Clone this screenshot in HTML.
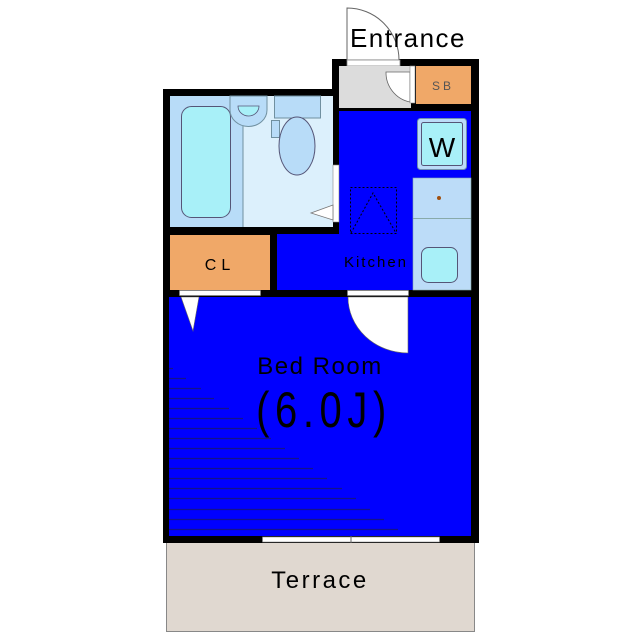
<!DOCTYPE html>
<html><head><meta charset="utf-8"><style>
html,body{margin:0;padding:0;background:#fff;}
svg{display:block;}
text{font-family:"Liberation Sans","DejaVu Sans",sans-serif;}
</style></head><body>
<svg width="640" height="640" viewBox="0 0 640 640" xmlns="http://www.w3.org/2000/svg">
<!-- terrace -->
<rect x="166.5" y="541.5" width="308" height="90" fill="#e0d8d0" stroke="#888" stroke-width="1"/>
<text x="320" y="588" font-size="24" text-anchor="middle" fill="#000" letter-spacing="2.5">Terrace</text>
<!-- outer black walls -->
<rect x="163" y="89" width="176" height="454" fill="#000"/>
<rect x="332" y="59" width="147" height="484" fill="#000"/>
<!-- entrance door arc -->
<path d="M347 60 L347 8 A52 52 0 0 1 399 60 Z" fill="#fff" stroke="#666" stroke-width="1"/>
<rect x="347" y="60" width="53" height="6" fill="#fff" stroke="#888" stroke-width="0.8"/>
<text x="408" y="47" font-size="26" text-anchor="middle" fill="#000" letter-spacing="1.5">Entrance</text>
<!-- entrance gray -->
<rect x="339" y="66" width="72" height="42" fill="#dcdcdc"/>
<path d="M410 72 L410 102 A30 30 0 0 1 386 72 Z" fill="#fff" stroke="#666" stroke-width="0.8"/>
<rect x="410" y="66" width="5" height="37" fill="#fff" stroke="#888" stroke-width="0.6"/>
<!-- SB -->
<rect x="416" y="66" width="55" height="38" fill="#f0a868"/>
<text x="443" y="90" font-size="12" text-anchor="middle" fill="#555" letter-spacing="3">SB</text>
<!-- kitchen blue -->
<rect x="339" y="111" width="132" height="179" fill="#0000ff"/>
<rect x="277" y="234" width="136" height="56" fill="#0000ff"/>
<!-- washer -->
<rect x="417.5" y="118.5" width="49" height="51" rx="3" fill="#bcdcf8" stroke="#7090b0"/>
<rect x="421.5" y="122.5" width="41" height="43" rx="2" fill="#a8f0f8" stroke="#557"/>
<text x="442" y="157" font-size="28" text-anchor="middle" fill="#000">W</text>
<!-- counter -->
<rect x="413" y="178" width="58" height="112" fill="#bcdcf8" stroke="#8aa" stroke-width="0.6"/>
<line x1="413" y1="218.5" x2="471" y2="218.5" stroke="#8aa" stroke-width="1"/>
<circle cx="439" cy="198" r="2" fill="#a05010"/>
<rect x="421.5" y="247.5" width="36" height="35" rx="7" fill="#a8f0f8" stroke="#557"/>
<!-- fridge dotted -->
<rect x="350.5" y="187.5" width="46" height="46" fill="none" stroke="#000" stroke-width="1" stroke-dasharray="2,2"/>
<path d="M351 233 L373 193 L396 233" fill="none" stroke="#000" stroke-width="1" stroke-dasharray="2,2"/>
<text x="376" y="267" font-size="15" text-anchor="middle" fill="#000" letter-spacing="2">Kitchen</text>
<!-- bath/toilet -->
<rect x="170" y="96" width="163" height="131" fill="#dcf0fc"/>
<rect x="170" y="96" width="73" height="131" fill="#b8dcf8"/>
<line x1="243" y1="96" x2="243" y2="227" stroke="#7090a0"/>
<rect x="181.5" y="106.5" width="49" height="111" rx="10" fill="#a8f0f8" stroke="#557" stroke-width="1"/>
<path d="M230 96 L230 110 A18 16 0 0 0 267 110 L267 96 Z" fill="#b8dcf8" stroke="#7090a0"/>
<path d="M238 106 L259 106 A10.5 10 0 0 1 238 106 Z" fill="#a8f0f8" stroke="#557" stroke-width="0.8"/>
<rect x="274.5" y="96" width="46" height="22" fill="#b8dcf8" stroke="#7090a0"/>
<rect x="271.5" y="120.5" width="8" height="17" fill="#b8dcf8" stroke="#7090a0"/>
<ellipse cx="297" cy="146" rx="18" ry="29" fill="#b8dcf8" stroke="#557"/>
<rect x="333" y="165" width="6" height="57" fill="#fff" stroke="#888" stroke-width="0.6"/>
<path d="M333 205 L311 213 L333 220 Z" fill="#fff" stroke="#777" stroke-width="0.8"/>
<!-- CL -->
<rect x="170" y="235" width="100" height="55" fill="#f0a868"/>
<text x="220" y="270" font-size="16" text-anchor="middle" fill="#000" letter-spacing="5">CL</text>
<!-- openings on mid wall -->
<rect x="179.5" y="290.5" width="81" height="5" fill="#fff" stroke="#888" stroke-width="0.6"/>
<rect x="347.5" y="290.5" width="61" height="5" fill="#fff" stroke="#888" stroke-width="0.6"/>
<!-- bedroom -->
<rect x="169" y="297" width="302" height="239" fill="#0000ff"/>
<path d="M181 297 L199 297 L193 331 Z" fill="#fff" stroke="#666" stroke-width="0.6"/>
<path d="M348 297 L408 297 L408 353 A60 56 0 0 1 348 297 Z" fill="#fff" stroke="#666" stroke-width="0.6"/>
<g stroke="#14148a" stroke-width="1.3">
<line x1="169" y1="368.5" x2="173" y2="368.5"/>
<line x1="169" y1="378.5" x2="186" y2="378.5"/>
<line x1="169" y1="388.5" x2="201" y2="388.5"/>
<line x1="169" y1="398.5" x2="214" y2="398.5"/>
<line x1="169" y1="408.5" x2="229" y2="408.5"/>
<line x1="169" y1="418.5" x2="243" y2="418.5"/>
<line x1="169" y1="428.5" x2="257" y2="428.5"/>
<line x1="169" y1="438.5" x2="271" y2="438.5"/>
<line x1="169" y1="448.5" x2="285" y2="448.5"/>
<line x1="169" y1="458.5" x2="299" y2="458.5"/>
<line x1="169" y1="468.5" x2="313" y2="468.5"/>
<line x1="169" y1="478.5" x2="327" y2="478.5"/>
<line x1="169" y1="488.5" x2="342" y2="488.5"/>
<line x1="169" y1="498.5" x2="356" y2="498.5"/>
<line x1="169" y1="509.5" x2="370" y2="509.5"/>
<line x1="169" y1="519.5" x2="384" y2="519.5"/>
<line x1="169" y1="529.5" x2="398" y2="529.5"/>
</g>
<text x="320" y="374" font-size="24" text-anchor="middle" fill="#000" letter-spacing="1.5">Bed Room</text>
<text x="324" y="427" font-size="50" text-anchor="middle" fill="#000" letter-spacing="7" transform="translate(324,0) scale(0.8,1) translate(-324,0)">(6.0J)</text>
<!-- window -->
<rect x="262.5" y="537" width="177" height="5" fill="#fff" stroke="#888" stroke-width="0.6"/>
<line x1="351" y1="536" x2="351" y2="543" stroke="#666"/>
</svg>
</body></html>
